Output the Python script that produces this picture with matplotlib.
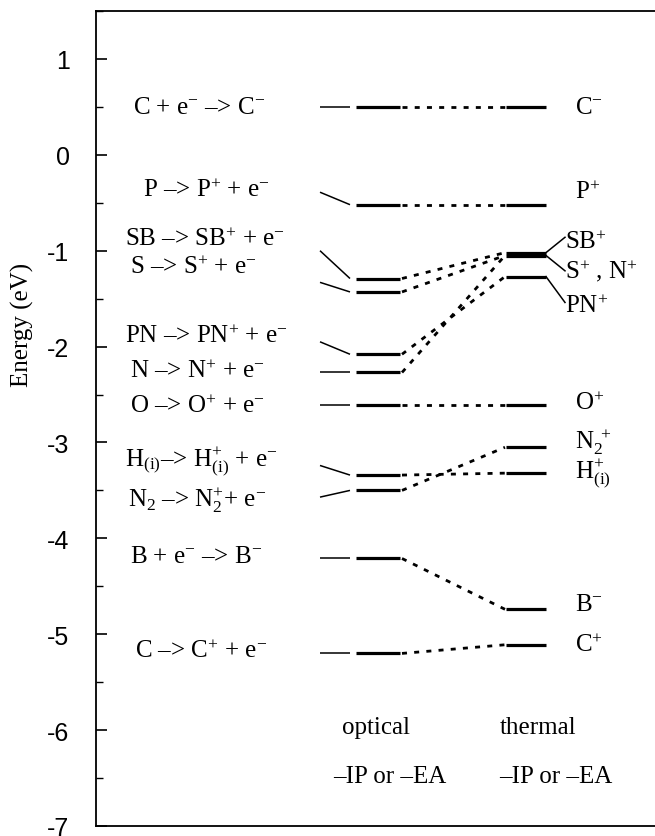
import matplotlib
matplotlib.use("Agg")
import matplotlib.pyplot as plt
from matplotlib.ticker import MultipleLocator

plt.rcParams['font.family'] = ['Liberation Serif', 'DejaVu Serif']
plt.rcParams['mathtext.fontset'] = 'custom'
plt.rcParams['mathtext.rm'] = 'Liberation Serif'
plt.rcParams['mathtext.it'] = 'Liberation Serif:italic'
plt.rcParams['mathtext.bf'] = 'Liberation Serif:bold'

# ---- data ----
processes = ["C-", "P", "SB", "S", "PN", "N", "O", "H", "N2", "B", "C+"]
left_labels = [
    r"C + e$^{-}$ –> C$^{-}$",
    r"P –> P$^{+}$ + e$^{-}$",
    r"SB –> SB$^{+}$ + e$^{-}$",
    r"S –> S$^{+}$ + e$^{-}$",
    r"PN –> PN$^{+}$ + e$^{-}$",
    r"N –> N$^{+}$ + e$^{-}$",
    r"O –> O$^{+}$ + e$^{-}$",
    r"H$_{\rm (i)}$–> H$^{+}_{\rm (i)}$ + e$^{-}$",
    r"N$_{2}$ –> N$_{2}^{+}$+ e$^{-}$",
    r"B + e$^{-}$ –> B$^{-}$",
    r"C –> C$^{+}$ + e$^{-}$",
]
optical = [0.50, -0.52, -1.29, -1.43, -2.08, -2.27, -2.61, -3.34, -3.50, -4.21, -5.20]
thermal = [0.50, -0.52, -1.02, -1.05, -1.27, -1.05, -2.61, -3.32, -3.05, -4.74, -5.11]
# energy where the short left connector starts (label side)
label_energy = [0.50, -0.39, -1.00, -1.33, -1.95, -2.27, -2.61, -3.24, -3.57, -4.21, -5.20]
# vertical position of each left label
label_text_energy = [0.50, -0.36, -0.87, -1.17, -1.89, -2.25, -2.61, -3.19, -3.59, -4.18, -5.17]

thermal_labels = [r"C$^{-}$", r"P$^{+}$", r"SB$^{+}$", r"S$^{+}$ , N$^{+}$", r"PN$^{+}$",
                  r"O$^{+}$", r"N$_{2}^{\ +}$", r"H$^{+}_{\rm (i)}$", r"B$^{-}$", r"C$^{+}$"]
thermal_label_energy = [0.50, -0.38, -0.90, -1.20, -1.57, -2.58, -2.99, -3.31, -4.68, -5.11]

yticks = [1, 0, -1, -2, -3, -4, -5, -6, -7]

# ---- layout (pixel-like x coordinates) ----
W, H = 655, 837
fig = plt.figure(figsize=(W / 100, H / 100), dpi=100)
ax_left, ax_top, ax_bottom = 96, 12, 827
ax = fig.add_axes([ax_left / W, (H - ax_bottom) / H, 1 - ax_left / W, (ax_bottom - ax_top) / H])
ax.set_xlim(ax_left, W)
ax.set_ylim(-7, 1.5)

x_conn0, x_conn1 = 320, 350
x_opt0, x_opt1 = 356, 400
x_th0, x_th1 = 506, 546
label_left_x = [133, 143, 125, 130, 125, 130, 130, 125, 128, 130, 135]

lw_level = 2.3
lw_thin = 1.1
dot_style = (0, (1.8, 2.6))
FS = 18

for i, p in enumerate(processes):
    eo, et, el = optical[i], thermal[i], label_energy[i]
    ax.plot([x_conn0, x_conn1], [el, eo], color='black', lw=lw_thin, solid_capstyle='butt')
    ax.plot([x_opt0, x_opt1], [eo, eo], color='black', lw=lw_level, solid_capstyle='butt')
    ax.plot([x_opt1 + 2, x_th0 - 1], [eo, et], color='black', lw=2.0, linestyle=dot_style)
    ax.text(label_left_x[i], label_text_energy[i], left_labels[i], fontsize=FS,
            ha='left', va='center')

# thermal levels (unique)
seen = set()
for et in thermal:
    key = round(et, 3)
    if key in seen:
        continue
    seen.add(key)
    ax.plot([x_th0, x_th1], [et, et], color='black', lw=lw_level, solid_capstyle='butt')

# right-hand connectors for the crowded group
for e_from, e_to in [(-1.02, -0.86), (-1.05, -1.21), (-1.27, -1.54)]:
    ax.plot([x_th1, 565], [e_from, e_to], color='black', lw=lw_thin)

right_x = [575, 575, 565, 565, 565, 575, 575, 575, 575, 575]
for lab, e, x in zip(thermal_labels, thermal_label_energy, right_x):
    ax.text(x, e, lab, fontsize=FS, ha='left', va='center')

# bottom captions
ax.text(342, -5.97, "optical", fontsize=FS, ha='left', va='center')
ax.text(333, -6.48, "–IP or –EA", fontsize=FS, ha='left', va='center')
ax.text(500, -5.97, "thermal", fontsize=FS, ha='left', va='center')
ax.text(499, -6.48, "–IP or –EA", fontsize=FS, ha='left', va='center')

# axes styling
ax.spines['right'].set_visible(False)
for s in ('left', 'top', 'bottom'):
    ax.spines[s].set_linewidth(1.3)
ax.set_xticks([])
ax.set_yticks(yticks)
ax.set_yticklabels([str(t) for t in yticks], family=['Liberation Sans', 'DejaVu Sans'], fontsize=18)
ax.yaxis.set_minor_locator(MultipleLocator(0.5))
ax.tick_params(axis='y', which='major', direction='in', length=8, width=1.2, pad=19)
ax.tick_params(axis='y', which='minor', direction='in', length=5, width=1.0)
ax.set_ylabel("Energy (eV)", fontsize=18)
ax.yaxis.set_label_coords(-0.111, 0.616)

fig.savefig("out.png", dpi=100)
